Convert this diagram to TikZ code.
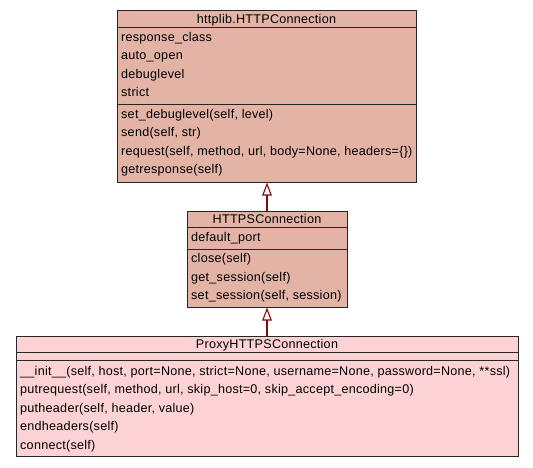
\documentclass[tikz,border=0pt]{standalone}
\usepackage{fontspec}
\setmainfont{Liberation Sans}[LetterSpace=2]
\usetikzlibrary{arrows.meta}
\definecolor{boxA}{RGB}{227,179,166}
\definecolor{boxB}{RGB}{253,210,212}
\definecolor{inh}{RGB}{130,10,10}
\tikzset{
  cls/.style={draw=black!85, line width=1pt, anchor=north west, inner sep=0pt},
  txt/.style={anchor=base west, inner sep=0pt, font=\fontsize{12.6}{14}\selectfont},
  ttl/.style={anchor=base, inner sep=0pt, font=\fontsize{12.6}{14}\selectfont},
  sep/.style={draw=black!85, line width=1pt},
  inherit/.style={draw=inh, line width=2.2pt, -{Triangle[open, length=13pt, width=9.5pt, line width=1.1pt]}}
}
\begin{document}
\begin{tikzpicture}[x=1pt,y=-1pt]
\useasboundingbox (0,0) rectangle (533,467);
% class 1
\node[cls, fill=boxA, minimum width=299pt, minimum height=172pt] (c1) at (117,10) {};
\draw[sep] (117,27) -- (416,27);
\draw[sep] (117,104) -- (416,104);
\node[ttl] (t1) at (266.5,23) {httplib.HTTPConnection};
\node[txt] (a11) at (121,41) {response\_class};
\node[txt] (a12) at (121,59.5) {auto\_open};
\node[txt] (a13) at (121,78) {debuglevel};
\node[txt] (a14) at (121,96.5) {strict};
\node[txt] (m11) at (121,118) {set\_debuglevel(self, level)};
\node[txt] (m12) at (121,136.5) {send(self, str)};
\node[txt] (m13) at (121,155) {request(self, method, url, body=None, headers=\{\})};
\node[txt] (m14) at (121,173.5) {getresponse(self)};
% class 2
\node[cls, fill=boxA, minimum width=160pt, minimum height=96pt] (c2) at (187,211) {};
\draw[sep] (187,227) -- (347,227);
\draw[sep] (187,249) -- (347,249);
\node[ttl] (t2) at (267,223) {HTTPSConnection};
\node[txt] (a21) at (191,241.5) {default\_port};
\node[txt] (m21) at (191,262.5) {close(self)};
\node[txt] (m22) at (191,281) {get\_session(self)};
\node[txt] (m23) at (191,299.5) {set\_session(self, session)};
% class 3
\node[cls, fill=boxB, minimum width=502pt, minimum height=120pt] (c3) at (16,336) {};
\draw[sep] (16,352) -- (518,352);
\draw[sep] (16,360) -- (518,360);
\node[ttl] (t3) at (267,348) {ProxyHTTPSConnection};
\node[txt] (m31) at (20,375) {\_\_init\_\_(self, host, port=None, strict=None, username=None, password=None, **ssl)};
\node[txt] (m32) at (20,393.5) {putrequest(self, method, url, skip\_host=0, skip\_accept\_encoding=0)};
\node[txt] (m33) at (20,412) {putheader(self, header, value)};
\node[txt] (m34) at (20,430.5) {endheaders(self)};
\node[txt] (m35) at (20,449) {connect(self)};
% inheritance
\draw[inherit] (c2.north -| 267,0) -- (267,182.5);
\draw[inherit] (c3.north -| 267,0) -- (267,307.5);
\end{tikzpicture}
\end{document}
